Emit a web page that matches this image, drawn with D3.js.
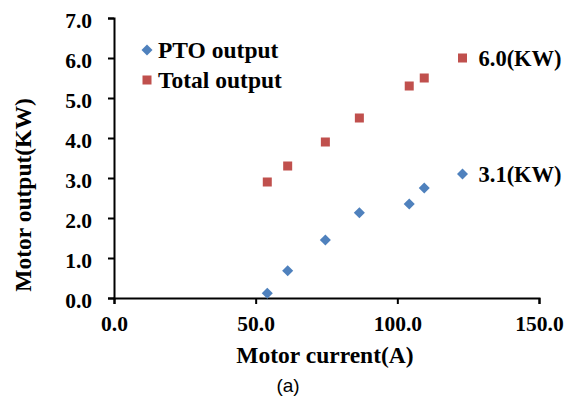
<!DOCTYPE html>
<html>
<head>
<meta charset="utf-8">
<script src="https://cdn.jsdelivr.net/npm/d3@7"></script>
<style>
  body { margin: 0; background: #fff; }
  text { font-family: "Liberation Serif", "Times New Roman", serif; font-weight: bold; fill: #000; }
</style>
</head>
<body>
<div id="chart"></div>
<script>
// Motor current (A) for each test point
const current = [54.1, 61.3, 74.6, 86.6, 104.2, 109.5, 123.0];
// PTO output (KW)
const ptoOutput = [0.12, 0.68, 1.45, 2.13, 2.35, 2.75, 3.1];
// Total output (KW)
const totalOutput = [2.9, 3.3, 3.9, 4.5, 5.3, 5.5, 6.0];

const xTicks = [0, 50, 100, 150];
const yTicks = [0, 1, 2, 3, 4, 5, 6, 7];

const seriesNames = ["PTO output", "Total output"];
const seriesColors = ["#4F81BD", "#C0504D"];
const endLabels = ["3.1(KW)", "6.0(KW)"];

const width = 567, height = 402;
const margin = {top: 18, right: 28, bottom: 104, left: 114};

const svg = d3.select('#chart')
    .append('svg')
    .attr('width', width)
    .attr('height', height);

const xScale = d3.scaleLinear()
    .domain([0, 150])
    .range([margin.left, width - margin.right]);

const yScale = d3.scaleLinear()
    .domain([0, 7])
    .range([height - margin.bottom, margin.top]);

// x axis
const xAxis = svg.append('g')
    .attr('transform', 'translate(0,' + yScale(0) + ')')
    .call(d3.axisBottom(xScale).tickValues(xTicks).tickFormat(d3.format('.1f')).tickSize(6).tickSizeOuter(6));

// y axis
const yAxis = svg.append('g')
    .attr('transform', 'translate(' + xScale(0) + ',0)')
    .call(d3.axisLeft(yScale).tickValues(yTicks).tickFormat(d3.format('.1f')).tickSize(6).tickSizeOuter(6));

[xAxis, yAxis].forEach(a => {
    a.select('.domain').attr('stroke', '#000').attr('stroke-width', 2);
    a.selectAll('.tick line').attr('stroke', '#000').attr('stroke-width', 2);
    a.selectAll('text')
        .attr('fill', '#000')
        .style('font-size', '21.5px')
        .style('font-family', '"Liberation Serif", serif')
        .style('font-weight', 'bold');
});
xAxis.selectAll('text').attr('dy', null).attr('y', 33);
yAxis.selectAll('text').attr('x', -22).attr('dy', '0.45em');

const diamond = d3.symbol().type(d3.symbolDiamond2).size(78);

// PTO output (diamonds)
svg.append('g')
    .selectAll('path')
    .data(current.map((c, i) => ({x: c, y: ptoOutput[i]})))
    .enter()
    .append('path')
        .attr('d', diamond)
        .attr('transform', d => 'translate(' + xScale(d.x) + ',' + yScale(d.y) + ')')
        .attr('fill', seriesColors[0]);

// Total output (squares)
svg.append('g')
    .selectAll('rect')
    .data(current.map((c, i) => ({x: c, y: totalOutput[i]})))
    .enter()
    .append('rect')
        .attr('x', d => xScale(d.x) - 4.5)
        .attr('y', d => yScale(d.y) - 4.5)
        .attr('width', 9)
        .attr('height', 9)
        .attr('fill', seriesColors[1]);

// end value labels
const last = current.length - 1;
svg.append('text')
    .attr('x', xScale(current[last]) + 16)
    .attr('y', yScale(ptoOutput[last]) + 8)
    .style('font-size', '22.5px')
    .text(endLabels[0]);
svg.append('text')
    .attr('x', xScale(current[last]) + 16)
    .attr('y', yScale(totalOutput[last]) + 8)
    .style('font-size', '22.5px')
    .text(endLabels[1]);

// legend
const legend = svg.append('g').attr('transform', 'translate(147,50)');
legend.append('path')
    .attr('d', diamond)
    .attr('fill', seriesColors[0]);
legend.append('rect')
    .attr('x', -4.5).attr('y', 25.5)
    .attr('width', 9).attr('height', 9)
    .attr('fill', seriesColors[1]);
legend.selectAll('text.lg')
    .data(seriesNames)
    .enter()
    .append('text')
        .attr('class', 'lg')
        .attr('x', 11)
        .attr('y', (d, i) => 8 + i * 30)
        .style('font-size', '23.5px')
        .text(d => d);

// axis titles
svg.append('text')
    .attr('x', 325)
    .attr('y', 363)
    .attr('text-anchor', 'middle')
    .style('font-size', '23.5px')
    .text('Motor current(A)');

svg.append('text')
    .attr('transform', 'translate(31,195) rotate(-90)')
    .attr('text-anchor', 'middle')
    .style('font-size', '23.5px')
    .text('Motor output(KW)');

svg.append('text')
    .attr('x', 288)
    .attr('y', 392)
    .attr('text-anchor', 'middle')
    .style('font-family', '"Liberation Sans", Arial, sans-serif')
    .style('font-weight', 'normal')
    .style('font-size', '19px')
    .text('(a)');
</script>
</body>
</html>
